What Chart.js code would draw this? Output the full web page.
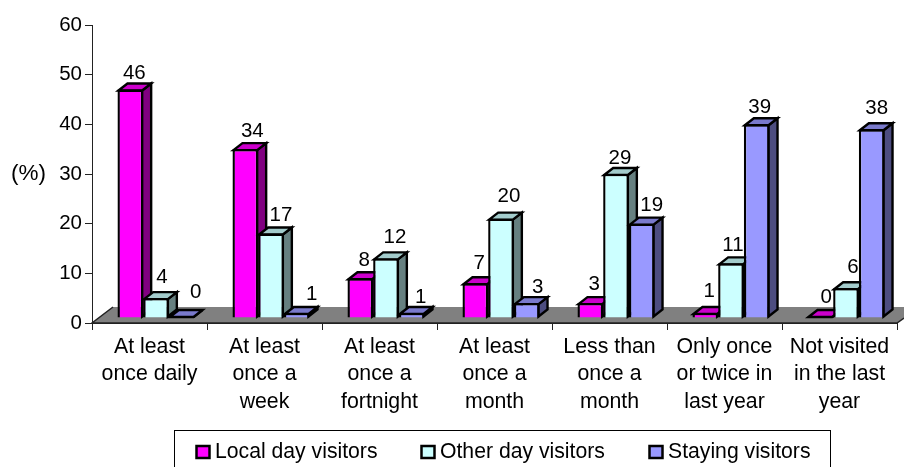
<!DOCTYPE html>
<html>
<head>
<meta charset="utf-8">
<title>Visitor frequency</title>
<script src="https://cdn.jsdelivr.net/npm/chart.js@4/dist/chart.umd.min.js"></script>
<style>
    html, body { margin: 0; padding: 0; background: #fff; }
    canvas { display: block; }
</style>
</head>
<body>
<canvas id="visitChart" width="904" height="467"></canvas>
<script>
var categories = [
    ['At least', 'once daily'],
    ['At least', 'once a', 'week'],
    ['At least', 'once a', 'fortnight'],
    ['At least', 'once a', 'month'],
    ['Less than', 'once a', 'month'],
    ['Only once', 'or twice in', 'last year'],
    ['Not visited', 'in the last', 'year']
];
var localDay = [46, 34, 8, 7, 3, 1, 0];
var otherDay = [4, 17, 12, 20, 29, 11, 6];
var staying = [0, 1, 1, 3, 19, 39, 38];

var FAMILY = '"Liberation Sans", Arial, sans-serif';
var SHIFT_X = 6.5, SHIFT_Y = -5;   // bars stand inside the floor, not on its front edge
var DEPTH_X = 9, DEPTH_Y = -7;
var LINE = 2.4;

// hand placement of the value labels, [dx, dy] per series and category
var labelNudges = [
    [[-3, 3], [0, 1], [-3, 1], [-3, -1], [-3, 0], [-3, -3], [-1, -2]],
    [[-1, -2], [3, 1], [2, -2], [1, -3], [-3, 3], [-5, 1], [0, -2]],
    [[7, -7], [8, 0], [2, 3], [4, 3], [3, 1], [-4, 2], [-2, -2]]
];

function shade(rgb, f) {
    return 'rgb(' + rgb.map(function (c) { return Math.round(c * f); }).join(',') + ')';
}

function makeSet(label, values, rgb) {
    return {
        label: label,
        data: values,
        rgb: rgb,
        clip: false,
        backgroundColor: shade(rgb, 1),
        borderColor: '#000',
        borderWidth: LINE,
        inflateAmount: 0
    };
}

function drawFloor(chart) {
    var c = chart.ctx, a = chart.chartArea, b = a.bottom;
    c.save();
    c.fillStyle = '#808080';
    c.beginPath();
    c.moveTo(a.left, b);
    c.lineTo(a.left + 21, b - 16);
    c.lineTo(a.right + 21, b - 16);
    c.lineTo(a.right, b);
    c.closePath();
    c.fill();
    c.strokeStyle = '#222';
    c.lineWidth = 1.5;
    c.beginPath();
    c.moveTo(a.left + 21, b - 16);
    c.lineTo(a.left, b);
    c.lineTo(a.right, b);
    c.lineTo(a.right + 7, b - 5);
    c.stroke();
    c.restore();
}

function drawFaces(c, bar, rgb) {
    var p = bar.getProps(['x', 'y', 'width', 'base']);
    var l = p.x - p.width / 2 + 1, r = p.x + p.width / 2 - 1, t = p.y + 1, b = p.base - 1;
    if (b < t) t = b;
    c.strokeStyle = '#000';
    c.lineWidth = LINE;
    c.fillStyle = shade(rgb, 0.5);
    c.beginPath();
    c.moveTo(r, t);
    c.lineTo(r + DEPTH_X, t + DEPTH_Y);
    c.lineTo(r + DEPTH_X, b + DEPTH_Y);
    c.lineTo(r, b);
    c.closePath();
    c.fill();
    c.stroke();
    c.fillStyle = shade(rgb, 0.8);
    c.beginPath();
    c.moveTo(l, t);
    c.lineTo(l + DEPTH_X, t + DEPTH_Y);
    c.lineTo(r + DEPTH_X, t + DEPTH_Y);
    c.lineTo(r, t);
    c.closePath();
    c.fill();
    c.stroke();
}

// series go down left to right so each one overlaps the depth of the one before,
// and its value labels can be covered by the next
var bars3dPlugin = {
    id: 'bars3d',
    beforeDatasetsDraw: function (chart) {
        var c = chart.ctx;
        drawFloor(chart);
        c.save();
        c.translate(SHIFT_X, SHIFT_Y);
        chart.data.datasets.forEach(function (set, i) {
            var meta = chart.getDatasetMeta(i);
            c.save();
            meta.data.forEach(function (bar) { drawFaces(c, bar, set.rgb); });
            c.restore();
            meta.controller.draw();
            c.save();
            c.font = '20.5px ' + FAMILY;
            c.fillStyle = '#000';
            c.textAlign = 'center';
            c.textBaseline = 'middle';
            meta.data.forEach(function (bar, j) {
                var n = labelNudges[i][j];
                c.fillText(String(set.data[j]), bar.x + 7 + n[0], bar.y - 19 + n[1]);
            });
            c.restore();
        });
        c.restore();
        return false;
    }
};

// boxed legend and the unit label beside the value axis
var annotationsPlugin = {
    id: 'annotations',
    afterDraw: function (chart) {
        var c = chart.ctx, starts = [196.5, 421.5, 649.5];
        c.save();
        c.fillStyle = '#000';
        c.textBaseline = 'middle';
        c.font = '22.5px ' + FAMILY;
        c.fillText('(%)', 11, 174);
        c.font = '21.2px ' + FAMILY;
        c.strokeStyle = '#000';
        c.lineWidth = 1;
        c.strokeRect(174.5, 430.5, 656, 50);
        chart.data.datasets.forEach(function (set, i) {
            c.fillStyle = set.backgroundColor;
            c.lineWidth = 2.5;
            c.fillRect(starts[i], 446, 13, 12);
            c.strokeRect(starts[i], 446, 13, 12);
            c.fillStyle = '#000';
            c.fillText(set.label, starts[i] + 18.5, 452);
        });
        c.restore();
    }
};

new Chart(document.getElementById('visitChart'), {
    type: 'bar',
    data: {
        labels: categories,
        datasets: [
            makeSet('Local day visitors', localDay, [255, 0, 255]),
            makeSet('Other day visitors', otherDay, [204, 255, 255]),
            makeSet('Staying visitors', staying, [153, 153, 255])
        ]
    },
    plugins: [bars3dPlugin, annotationsPlugin],
    options: {
        responsive: false,
        animation: false,
        layout: { padding: { top: 25, right: 7 } },
        datasets: { bar: { categoryPercentage: 0.67, barPercentage: 1 } },
        plugins: {
            legend: { display: false },
            tooltip: { enabled: false }
        },
        scales: {
            x: {
                afterFit: function (s) { s.height = 144; },
                grid: { drawOnChartArea: false, tickLength: 7, tickColor: '#222', offset: true },
                border: { color: '#222', width: 1 },
                ticks: {
                    color: '#000',
                    maxRotation: 0,
                    autoSkip: false,
                    padding: 3,
                    font: { family: FAMILY, size: 21.3, lineHeight: 1.3 }
                }
            },
            y: {
                min: 0,
                max: 60,
                afterFit: function (s) { s.width = 92; },
                grid: { drawOnChartArea: false, tickLength: 7, tickColor: '#222' },
                border: { color: '#222', width: 1 },
                ticks: {
                    color: '#000',
                    stepSize: 10,
                    padding: 3,
                    font: { family: FAMILY, size: 20.5 }
                }
            }
        }
    }
});
</script>
</body>
</html>
